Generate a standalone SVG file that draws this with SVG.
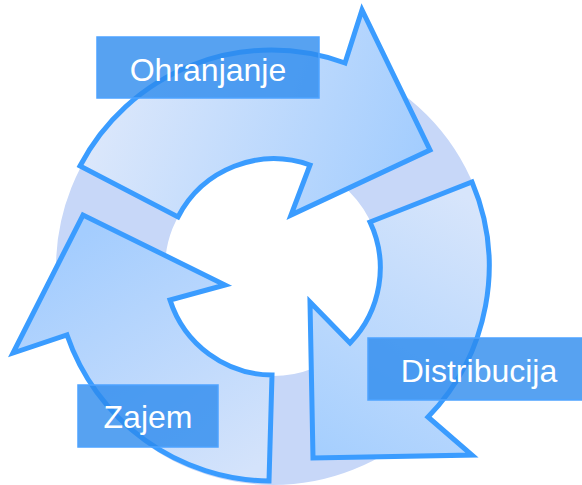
<svg xmlns="http://www.w3.org/2000/svg" width="582" height="485" viewBox="0 0 582 485">
  <defs>
    <linearGradient id="gradTop" gradientUnits="userSpaceOnUse" x1="110" y1="90" x2="410" y2="190">
      <stop offset="0" stop-color="#dbe7fb"/>
      <stop offset="1" stop-color="#a3cdfe"/>
    </linearGradient>
    <linearGradient id="gradRight" gradientUnits="userSpaceOnUse" x1="470" y1="200" x2="320" y2="450">
      <stop offset="0" stop-color="#d7e5fb"/>
      <stop offset="1" stop-color="#a6cffe"/>
    </linearGradient>
    <linearGradient id="gradLeft" gradientUnits="userSpaceOnUse" x1="250" y1="470" x2="90" y2="230">
      <stop offset="0" stop-color="#d4e3fb"/>
      <stop offset="1" stop-color="#a4cdfe"/>
    </linearGradient>
    <style>
      .ring { fill: none; stroke: #c7d7f8; stroke-width: 109; }
      .arrow { stroke: #3a9cff; stroke-width: 5; stroke-linejoin: miter; stroke-miterlimit: 10; }
      .box { fill: #2d8bee; fill-opacity: 0.8; stroke: #4da3ff; stroke-width: 1.5; }
      .label { font-family: "Liberation Sans", Arial, sans-serif; font-size: 32px; fill: #ffffff; text-anchor: middle; }
    </style>
  </defs>

  <rect width="582" height="485" fill="#ffffff"/>

  <!-- background ring -->
  <g id="ring">
    <circle class="ring" cx="273" cy="268" r="162.5"/>
  </g>

  <!-- cycle arrows -->
  <g id="arrow-ohranjanje">
    <path class="arrow" fill="url(#gradTop)"
          d="M 80,166 A 216 216 0 0 1 345,63 L 362,10 L 430,150 L 291,215 L 310,165 A 108 108 0 0 0 178,217 Z"/>
  </g>
  <g id="arrow-distribucija">
    <path class="arrow" fill="url(#gradRight)"
          d="M 472,182 A 216 216 0 0 1 428,417 L 472,455 L 313,458 L 310,302 L 350,343 A 108 108 0 0 0 370,222 Z"/>
  </g>
  <g id="arrow-zajem">
    <path class="arrow" fill="url(#gradLeft)"
          d="M 269,481 A 216 216 0 0 1 67,335 L 13,353 L 83,215 L 225,285 L 170,300 A 108 108 0 0 0 272,375 Z"/>
  </g>

  <!-- labels -->
  <g id="label-ohranjanje">
    <rect class="box" x="97" y="37" width="222" height="61"/>
    <text class="label" x="208" y="81">Ohranjanje</text>
  </g>
  <g id="label-distribucija">
    <rect class="box" x="368" y="338" width="222" height="62"/>
    <text class="label" x="479" y="382">Distribucija</text>
  </g>
  <g id="label-zajem">
    <rect class="box" x="78" y="385" width="140" height="62"/>
    <text class="label" x="148" y="428">Zajem</text>
  </g>
</svg>
